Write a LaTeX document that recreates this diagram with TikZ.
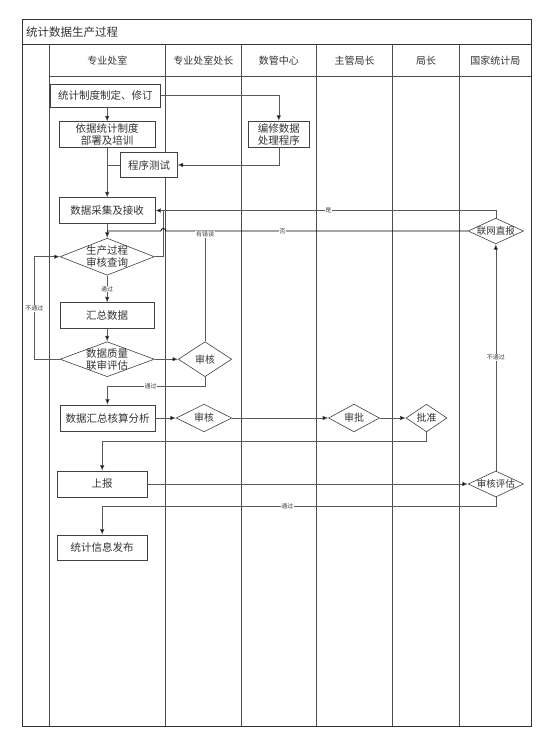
\documentclass[tikz,border=0pt]{standalone}
\usepackage{fontspec}
\setmainfont{Noto Sans CJK SC}
\usetikzlibrary{shapes.geometric,arrows.meta,calc}
\begin{document}
\begin{tikzpicture}[x=1pt,y=-1pt,
  lane/.style={draw=black!70, line width=0.6pt},
  frame/.style={draw=black!80, line width=0.8pt},
  box/.style={draw=black!75, line width=0.6pt, fill=white, inner sep=0pt, align=center,
    font=\fontsize{10.5}{12}\selectfont, text=black!80},
  dmd/.style={diamond, draw=black!75, line width=0.6pt, fill=white, inner sep=0pt},
  dtxt/.style={inner sep=0pt, align=center, font=\fontsize{10}{11.5}\selectfont, text=black!80},
  conn/.style={draw=black!65, line width=0.6pt},
  arr/.style={conn, -{Latex[length=5.5pt,width=4.5pt,fill=black]}},
  strong/.style={draw=black, line width=0.8pt},
  lbl/.style={fill=white, inner sep=0.6pt, font=\fontsize{6}{7}\selectfont, text=black!75},
  hdr/.style={font=\fontsize{10}{12}\selectfont, text=black!80}
]
\useasboundingbox (0,0) rectangle (551,748);
% frame and lanes
\draw[frame] (22.7,19) rectangle (531,726);
\draw[frame] (22.7,44.3) -- (531,44.3);
\draw[lane] (49.3,76.7) -- (531,76.7);
\foreach \x in {49.3,165.5,241.3,316.5,392.5,459.5}
  \draw[lane] (\x,44.3) -- (\x,726);
\node[anchor=west, font=\fontsize{11.5}{13}\selectfont, text=black!80, inner sep=0pt] (title) at (26,32) {统计数据生产过程};
\node[hdr] (h1) at (107.4,61) {专业处室};
\node[hdr] (h2) at (203.4,61) {专业处室处长};
\node[hdr] (h3) at (278.9,61) {数管中心};
\node[hdr] (h4) at (354.5,61) {主管局长};
\node[hdr] (h5) at (426,61) {局长};
\node[hdr] (h6) at (495.3,61) {国家统计局};

% nodes
\node[box, minimum width=110.7pt, minimum height=22.7pt] (n1) at (105.4,95.7) {统计制度制定、修订};
\node[box, minimum width=95.7pt, minimum height=25.6pt] (n2) at (107.2,134.5) {依据统计制度\\部署及培训};
\node[box, minimum width=61pt, minimum height=26.3pt] (n3) at (278.8,134.2) {编修数据\\处理程序};
\node[box, minimum width=56.6pt, minimum height=25.4pt] (n4) at (149,165) {程序测试};
\node[box, minimum width=95.7pt, minimum height=25.6pt] (n5) at (107.2,210.5) {数据采集及接收};
\node[dmd, minimum width=94.3pt, minimum height=37pt] (d1) at (107.2,256.7) {};
\node[dtxt, font=\fontsize{10.5}{12}\selectfont] (t1) at (d1) {生产过程\\审核查询};
\node[box, minimum width=94.3pt, minimum height=25.6pt] (n6) at (107.2,315.5) {汇总数据};
\node[dmd, minimum width=94.3pt, minimum height=35pt] (d2) at (107.2,359.2) {};
\node[dtxt, font=\fontsize{10.5}{12}\selectfont] (t2) at (d2) {数据质量\\联审评估};
\node[dmd, minimum width=53.4pt, minimum height=35pt] (d3) at (205,359.2) {};
\node[dtxt] (t3) at (d3) {审核};
\node[box, minimum width=95.2pt, minimum height=26pt] (n7) at (107.5,418) {数据汇总核算分析};
\node[dmd, minimum width=55.7pt, minimum height=27.7pt] (d4) at (204,418) {};
\node[dtxt] (t4) at (d4) {审核};
\node[dmd, minimum width=51pt, minimum height=27.7pt] (d5) at (354,418) {};
\node[dtxt] (t5) at (d5) {审批};
\node[dmd, minimum width=41pt, minimum height=27.7pt] (d6) at (426.5,418) {};
\node[dtxt] (t6) at (d6) {批准};
\node[box, minimum width=89.5pt, minimum height=26pt] (n8) at (102.2,484) {上报};
\node[dmd, minimum width=55.3pt, minimum height=26pt] (d7) at (495.8,484) {};
\node[dtxt, font=\fontsize{9.5}{11}\selectfont] (t7) at (d7) {审核评估};
\node[dmd, minimum width=55.4pt, minimum height=25.7pt] (d8) at (495.8,231) {};
\node[dtxt, font=\fontsize{9.5}{11}\selectfont] (t8) at (d8) {联网直报};
\node[box, minimum width=89.5pt, minimum height=25.7pt] (n9) at (102.2,547.8) {统计信息发布};

% connectors
\draw[arr] (n2.north |- n1.south) -- (n2.north);
\draw[arr] (n1.east) -| (n3.north);
\draw[arr] (n3.south) |- (n4.east);
\draw[arr] (n2.south) -- (n5.north);
\draw[conn] (n4.west) -- (n4.west -| n2.south);
\draw[arr] (n5.south) -- (d1.north);
\draw[conn] (d1.east) -| ($(n5.east)+(8,0)$);
\draw[arr] (d8.north) |- (n5.east);
\node[lbl] (l1) at (328.3,210.5) {是};
\draw[strong] (d8.west) -- ($(d8.west -| n5.east)+(10.5,0)$)
  arc[start angle=0, end angle=-180, radius=2.5] -- (d8.west -| n5.south);
\node[lbl] (l2) at (282.7,231) {否};
\draw[conn] (d3.north) -- (d3.north |- d8.west);
\node[lbl] (l3) at ($(d3.north |- d8.west)+(0,3.2)$) {有错误};
\draw[arr] (d1.south) -- (n6.north);
\node[lbl] (l4) at (107.2,289) {通过};
\draw[arr] (n6.south) -- (d2.north);
\draw[arr] (d2.east) -- (d3.west);
\draw[arr] (d2.west) -- ++(-25.7,0) |- (d1.west);
\node[lbl] (l5) at (34.3,308.3) {不通过};
\draw[arr] (d3.south) -- ++(0,9.3) -| (n7.north);
\node[lbl] (l6) at (150.7,386) {通过};
\draw[arr] (n7.east) -- (d4.west);
\draw[arr] (d4.east) -- (d5.west);
\draw[arr] (d5.east) -- (d6.west);
\draw[arr] (d6.south) -- ++(0,9) -| (n8.north);
\draw[arr] (n8.east) -- (d7.west);
\draw[arr] (d7.north) -- (d8.south);
\node[lbl] (l7) at (495.8,357.7) {不通过};
\draw[arr] (d7.south) -- ++(0,9) -| (n9.north);
\node[lbl] (l8) at (287.3,505.7) {通过};
\end{tikzpicture}
\end{document}
